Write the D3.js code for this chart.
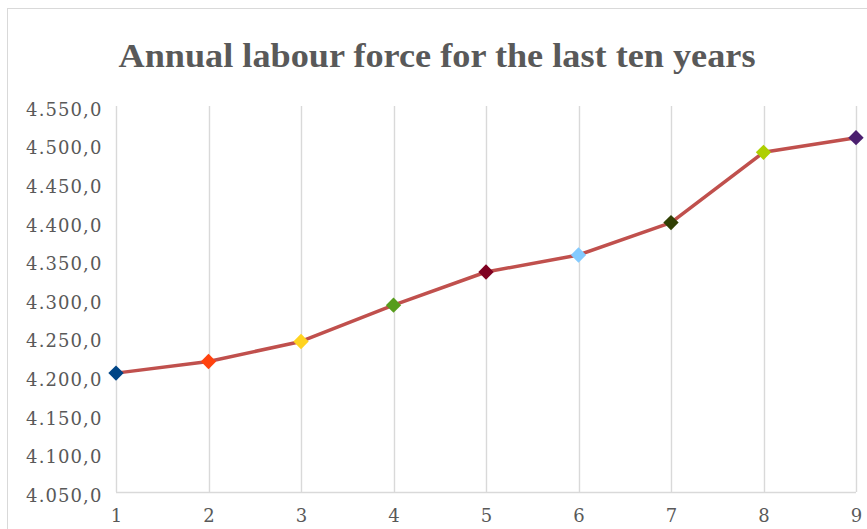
<!DOCTYPE html>
<html>
<head>
<meta charset="utf-8">
<script src="https://cdn.jsdelivr.net/npm/d3@7"></script>
<style>
  html, body { margin: 0; padding: 0; background: #fff; }
  svg { display: block; }
</style>
</head>
<body>
<svg id="chart" width="867" height="529"></svg>
<script>
const title = "Annual labour force for the last ten years";
const categories = [1, 2, 3, 4, 5, 6, 7, 8, 9];
const values = [4204, 4219, 4245, 4292, 4335, 4357, 4399, 4490, 4509];
const markerColors = ["#004586", "#ff420e", "#ffd320", "#579d1c", "#7e0021", "#83caff", "#314004", "#aecf00", "#4b1f6f"];
const yTicks = [4050, 4100, 4150, 4200, 4250, 4300, 4350, 4400, 4450, 4500, 4550];

(function () {
const svg = d3.select("#chart");
const pLeft = 116, pRight = 856, pTop = 106, pBottom = 492;

// chart border
svg.append("rect").attr("x", 7.5).attr("y", 8.5).attr("width", 900).attr("height", 600)
  .attr("fill", "#fff").attr("stroke", "#d9d9d9").attr("stroke-width", 1);

// title
svg.append("text").attr("x", 437).attr("y", 67).attr("text-anchor", "middle")
  .attr("font-family", "Liberation Serif").attr("font-weight", "bold")
  .attr("font-size", 33).attr("fill", "#595959")
  .attr("textLength", 637).attr("lengthAdjust", "spacingAndGlyphs")
  .text(title);

const x = d3.scalePoint().domain(categories).range([pLeft, pRight]);
const y = d3.scaleLinear().domain([4050, 4550]).range([pBottom, pTop]);

// vertical gridlines
svg.append("g").selectAll("line").data(categories).join("line")
  .attr("x1", d => Math.round(x(d)) + 0.5).attr("x2", d => Math.round(x(d)) + 0.5)
  .attr("y1", pTop).attr("y2", pBottom)
  .attr("stroke", "#d9d9d9").attr("stroke-width", 1.4);

// x axis
const fmt = v => d3.format(",.1f")(v).replace(/,/g, "#").replace(".", ",").replace(/#/g, ".");
const xAxis = svg.append("g").attr("transform", `translate(0,${pBottom + 0.5})`)
  .call(d3.axisBottom(x).tickSize(0).tickPadding(17));
xAxis.select(".domain").attr("stroke", "#d9d9d9").attr("stroke-width", 1.4)
  .attr("d", `M${pLeft},0H${pRight}`);
xAxis.selectAll("text").attr("font-family", "DejaVu Serif").attr("font-size", 18)
  .attr("fill", "#595959");

// y axis
const yAxis = svg.append("g").attr("transform", `translate(${pLeft + 0.5},0)`)
  .call(d3.axisLeft(y).tickValues(yTicks).tickSize(0).tickPadding(14).tickFormat(fmt));
yAxis.select(".domain").remove();
yAxis.selectAll("text").attr("font-family", "DejaVu Serif").attr("font-size", 18)
  .attr("letter-spacing", "1.1px").attr("fill", "#595959").attr("dy", "0.52em");

// line
const line = d3.line().x((d, i) => x(categories[i])).y(d => y(d));
svg.append("path").datum(values).attr("d", line)
  .attr("fill", "none").attr("stroke", "#c0504d").attr("stroke-width", 3.5)
  .attr("stroke-linejoin", "round");

// markers
const diamond = d3.symbol().type(d3.symbolDiamond2).size(150);
svg.append("g").selectAll("path").data(values).join("path")
  .attr("transform", (d, i) => `translate(${x(categories[i])},${y(d)})`)
  .attr("d", diamond)
  .attr("fill", (d, i) => markerColors[i]);
})();
</script>
</body>
</html>
